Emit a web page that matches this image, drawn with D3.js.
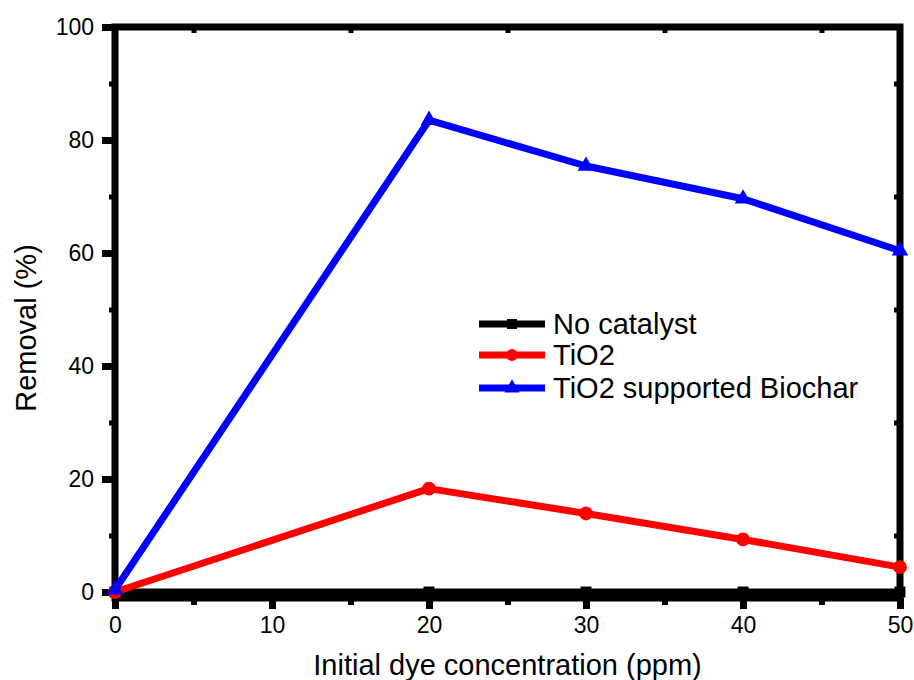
<!DOCTYPE html>
<html>
<head>
<meta charset="utf-8">
<script src="https://cdn.jsdelivr.net/npm/d3@7"></script>
<style>
  body { margin: 0; background: #fff; }
  text { font-family: "Liberation Sans", Arial, sans-serif; }
</style>
</head>
<body>
<div id="chart"></div>
<script>
let concentrations = [0, 20, 30, 40, 50];
let noCatalyst = [0, 0, 0, 0, 0];
let tio2 = [0, 18.3, 13.9, 9.3, 4.4];
let biochar = [0.4, 83.5, 75.4, 69.6, 60.4];

let seriesNames = ["No catalyst", "TiO2", "TiO2 supported Biochar"];
let seriesColors = ["#000000", "#ff0000", "#0000ff"];
let seriesShapes = [d3.symbolSquare, d3.symbolCircle, d3.symbolTriangle];

let xTicks = [0, 10, 20, 30, 40, 50];
let yTicks = [0, 20, 40, 60, 80, 100];

let width = 914;
let height = 680;
let margin = {left: 115, right: 14, top: 27, bottom: 88};

let x = d3.scaleLinear().domain([0, 50]).range([margin.left, width - margin.right]);
let y = d3.scaleLinear().domain([0, 100]).range([height - margin.bottom, margin.top]);

let svg = d3.select('#chart').append('svg')
    .attr('width', width)
    .attr('height', height);

let allSeries = [noCatalyst, tio2, biochar];
let bottomY = y(0) + 6;

// minor ticks
let xMinor = d3.range(5, 50, 10);
let yMinor = d3.range(10, 100, 20);

// bottom axis
svg.append('g')
    .attr('transform', `translate(0,${bottomY})`)
    .call(d3.axisBottom(x).tickValues(xTicks).tickSize(11).tickPadding(8))
    .call(g => g.select('.domain').remove())
    .call(g => g.selectAll('line').attr('stroke-width', 7))
    .call(g => g.selectAll('text').attr('font-size', 23).attr('fill', '#000'));
svg.append('g')
    .attr('transform', `translate(0,${bottomY})`)
    .call(d3.axisBottom(x).tickValues(xMinor).tickSize(7).tickFormat(''))
    .call(g => g.select('.domain').remove())
    .call(g => g.selectAll('line').attr('stroke-width', 6));

// left axis
svg.append('g')
    .attr('transform', `translate(${x(0)},0)`)
    .call(d3.axisLeft(y).tickValues(yTicks).tickSize(13).tickPadding(8))
    .call(g => g.select('.domain').remove())
    .call(g => g.selectAll('line').attr('stroke-width', 7))
    .call(g => g.selectAll('text').attr('font-size', 23).attr('fill', '#000'));
svg.append('g')
    .attr('transform', `translate(${x(0)},0)`)
    .call(d3.axisLeft(y).tickValues(yMinor).tickSize(6).tickFormat(''))
    .call(g => g.select('.domain').remove())
    .call(g => g.selectAll('line').attr('stroke-width', 5));

// top and right minor ticks (inward)
svg.append('g')
    .attr('transform', `translate(0,${y(100)})`)
    .call(d3.axisBottom(x).tickValues(xMinor).tickSize(6).tickFormat(''))
    .call(g => g.select('.domain').remove())
    .call(g => g.selectAll('line').attr('stroke-width', 5));
svg.append('g')
    .attr('transform', `translate(${x(50)},0)`)
    .call(d3.axisLeft(y).tickValues(yMinor).tickSize(6).tickFormat(''))
    .call(g => g.select('.domain').remove())
    .call(g => g.selectAll('line').attr('stroke-width', 5));

// frame
svg.append('rect')
    .attr('x', x(0))
    .attr('y', y(100))
    .attr('width', x(50) - x(0))
    .attr('height', bottomY - y(100))
    .attr('fill', 'none')
    .attr('stroke', '#000')
    .attr('stroke-width', 7);

let line = d3.line()
    .x((d, i) => x(concentrations[i]))
    .y(d => y(d));

allSeries.forEach((s, k) => {
    svg.append('path')
        .datum(s)
        .attr('d', line)
        .attr('fill', 'none')
        .attr('stroke', seriesColors[k])
        .attr('stroke-width', 7)
        .attr('stroke-linejoin', 'round');

    svg.selectAll('.m' + k)
        .data(s)
        .join('path')
        .attr('class', 'm' + k)
        .attr('transform', (d, i) => `translate(${x(concentrations[i])},${y(d)})`)
        .attr('d', d3.symbol().type(seriesShapes[k]).size(k == 1 ? 150 : 120))
        .attr('fill', seriesColors[k]);
});

// legend
let legendY = [324, 355, 388];
seriesNames.forEach((name, k) => {
    let g = svg.append('g').attr('transform', `translate(479,${legendY[k]})`);
    g.append('line')
        .attr('x1', 0).attr('x2', 66)
        .attr('stroke', seriesColors[k])
        .attr('stroke-width', 7);
    g.append('path')
        .attr('transform', 'translate(33,0)')
        .attr('d', d3.symbol().type(seriesShapes[k]).size(k == 1 ? 110 : 100))
        .attr('fill', seriesColors[k]);
    g.append('text')
        .attr('x', 74)
        .attr('y', 10)
        .attr('font-size', 29)
        .attr('fill', '#000')
        .text(name);
});

// axis titles
svg.append('text')
    .attr('x', (x(0) + x(50)) / 2)
    .attr('y', 675)
    .attr('text-anchor', 'middle')
    .attr('font-size', 29)
    .text('Initial dye concentration (ppm)');

svg.append('text')
    .attr('transform', 'translate(36,328) rotate(-90)')
    .attr('text-anchor', 'middle')
    .attr('font-size', 29)
    .text('Removal (%)');
</script>
</body>
</html>
